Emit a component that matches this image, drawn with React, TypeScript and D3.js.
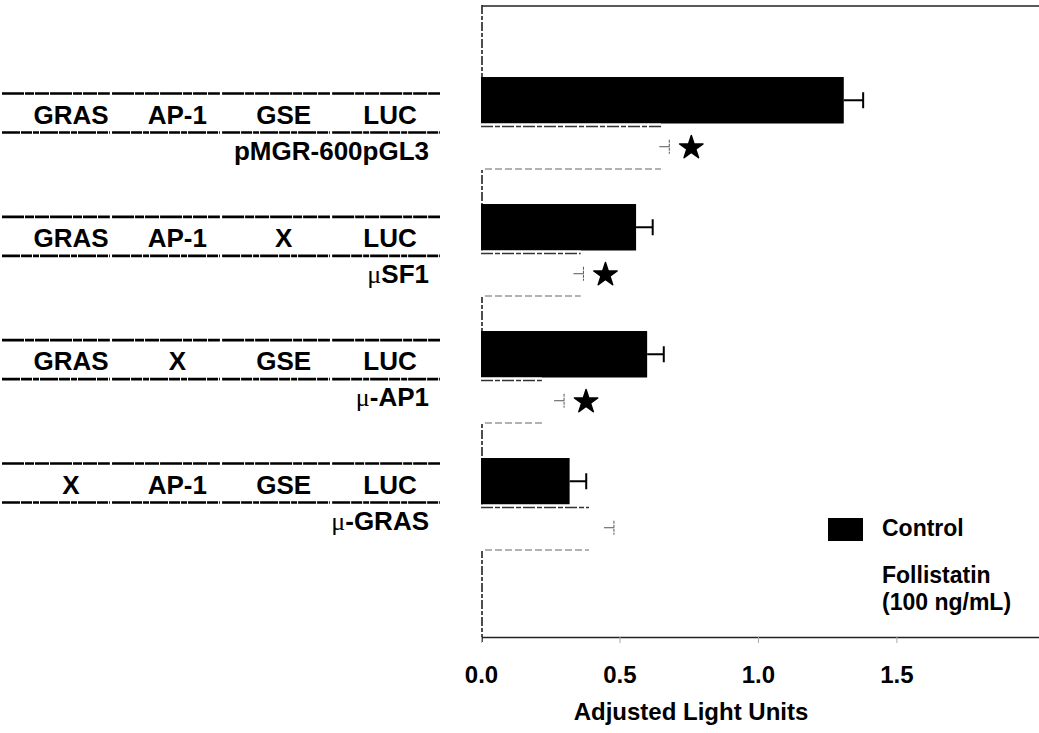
import React, { useRef, useEffect } from 'react';
import * as d3 from 'd3';

// constructs (rows, top to bottom) and their promoter elements
const constructs = ['pMGR-600pGL3', 'μSF1', 'μ-AP1', 'μ-GRAS'];
const elements = [
    ['GRAS', 'AP-1', 'GSE', 'LUC'],
    ['GRAS', 'AP-1', 'X', 'LUC'],
    ['GRAS', 'X', 'GSE', 'LUC'],
    ['X', 'AP-1', 'GSE', 'LUC'],
];

const series = ['Control', 'Follistatin'];
const controlValues = [1.31, 0.56, 0.60, 0.32];
const controlErrors = [0.07, 0.06, 0.06, 0.06];
const follistatinValues = [0.65, 0.36, 0.22, 0.39];
const follistatinErrors = [0.03, 0.01, 0.08, 0.09];
const significant = [true, true, true, false];

const xTicks = [0, 0.5, 1.0, 1.5];
const xTitle = 'Adjusted Light Units';
const legendLabels = [['Control'], ['Follistatin', '(100 ng/mL)']];

const W = 1039;
const H = 733;
const FONT = '"Liberation Sans", Arial, sans-serif';

export default function App() {
    const axisRef = useRef<SVGGElement>(null);

    const x = d3.scaleLinear().domain([0, 2.015]).range([481, 1039]);
    const y = d3.scaleBand().domain(constructs).range([60, 568]).paddingInner(0.268).paddingOuter(0.134);
    const inner = d3.scaleBand().domain(series).range([0, y.bandwidth()]);

    // left-hand construct drawings
    const rowY = d3.scalePoint().domain(constructs).range([93.5, 463.5]);
    const colX = d3.scalePoint<number>().domain([0, 1, 2, 3]).range([71, 390]);
    const segX = d3.scaleBand<number>().domain([0, 1, 2, 3]).range([2, 440]).paddingInner(0.02);

    useEffect(() => {
        const g = d3.select(axisRef.current);
        const axis = d3.axisBottom(x)
            .tickValues(xTicks)
            .tickFormat(d3.format('.1f'))
            .tickSize(6)
            .tickSizeOuter(0)
            .tickPadding(23);
        g.call(axis);
        g.select('.domain').attr('stroke', '#222').attr('stroke-width', 1.6);
        g.selectAll('.tick line').attr('stroke', '#aaa');
        g.selectAll('.tick text')
            .attr('font-size', 24)
            .attr('font-weight', 'bold')
            .attr('font-family', FONT)
            .attr('fill', '#000');
    }, []);

    const bars = constructs.map((c, i) => ({
        c, i,
        ctrl: controlValues[i], ctrlErr: controlErrors[i],
        fol: follistatinValues[i], folErr: follistatinErrors[i],
        sig: significant[i],
    }));

    const star = d3.symbol(d3.symbolStar, 170)();

    return (
        <svg width={W} height={H} style={{ position: 'absolute', left: 0, top: 0, background: '#fff' }}
            fontFamily={FONT}>
            {/* frame */}
            <line x1={482} x2={W} y1={6} y2={6} stroke="#222" strokeWidth={1.6} />
            <line x1={482} x2={482} y1={5} y2={642} stroke="#222" strokeWidth={1.6} strokeDasharray="9 2 4 2" />

            {bars.map(d => {
                const y0 = y(d.c)!;
                const yc = y0 + inner('Control')!;
                const yf = y0 + inner('Follistatin')!;
                const bh = inner.bandwidth();
                const fMid = yf + bh / 2;
                return (
                    <g key={d.c}>
                        {/* control */}
                        <rect x={x(0)} y={yc} width={x(d.ctrl) - x(0)} height={bh} fill="#000" />
                        <line x1={x(d.ctrl)} x2={x(d.ctrl + d.ctrlErr)} y1={yc + bh / 2} y2={yc + bh / 2}
                            stroke="#000" strokeWidth={2} />
                        <line x1={x(d.ctrl + d.ctrlErr)} x2={x(d.ctrl + d.ctrlErr)}
                            y1={yc + bh / 2 - 8} y2={yc + bh / 2 + 8} stroke="#000" strokeWidth={2} />
                        {/* follistatin: white bar, only its edges show */}
                        <rect x={x(0)} y={yf} width={x(d.fol) - x(0)} height={bh} fill="#fff" />
                        <line x1={x(0)} x2={x(d.fol)} y1={yf + 3} y2={yf + 3}
                            stroke="#333" strokeWidth={1.5} strokeDasharray="12 2 5 2" />
                        <line x1={x(0) + 4} x2={x(d.fol)} y1={yf + bh - 1} y2={yf + bh - 1}
                            stroke="#666" strokeWidth={1.2} strokeDasharray="7 3" />
                        <line x1={x(d.fol + d.folErr) - 10} x2={x(d.fol + d.folErr)} y1={fMid} y2={fMid}
                            stroke="#555" strokeWidth={1} />
                        <line x1={x(d.fol + d.folErr)} x2={x(d.fol + d.folErr)} y1={fMid - 7} y2={fMid + 7}
                            stroke="#555" strokeWidth={1} strokeDasharray="3 1" />
                        {d.sig && (
                            <path d={star!} transform={`translate(${x(d.fol + d.folErr) + 22},${fMid + 1})`}
                                fill="#000" stroke="#000" strokeWidth={1.5} strokeLinejoin="round" />
                        )}
                    </g>
                );
            })}

            {/* construct diagrams */}
            {constructs.map((c, i) => {
                const top = rowY(c)!;
                const bottom = top + 39;
                return (
                    <g key={'row' + c}>
                        {elements[i].map((el, j) => (
                            <g key={j}>
                                <line x1={segX(j)} x2={segX(j)! + segX.bandwidth()} y1={top} y2={top}
                                    stroke="#000" strokeWidth={2.6} strokeDasharray="22 1 9 1 14 1" />
                                <line x1={segX(j)} x2={segX(j)! + segX.bandwidth()} y1={bottom} y2={bottom}
                                    stroke="#000" strokeWidth={2.6} strokeDasharray="18 1 11 1 6 1" />
                                <text x={colX(j)} y={top + 30} textAnchor="middle" fontSize={26}
                                    fontWeight="bold">{el}</text>
                            </g>
                        ))}
                        <text x={429} y={top + 66} textAnchor="end" fontSize={26} fontWeight="bold">
                            {c.startsWith('μ') ? (
                                <>
                                    <tspan fontWeight="normal" fontFamily='"Liberation Serif", serif'>μ</tspan>
                                    <tspan>{c.slice(1)}</tspan>
                                </>
                            ) : c}
                        </text>
                    </g>
                );
            })}

            {/* x axis */}
            <g ref={axisRef} transform="translate(0,637)" />
            <text x={691} y={720} textAnchor="middle" fontSize={24} fontWeight="bold">{xTitle}</text>

            {/* legend */}
            {legendLabels.map((lines, i) => (
                <g key={'leg' + i} transform={`translate(828,${518 + i * 47})`}>
                    <rect width={35} height={23} fill={i === 0 ? '#000' : '#fff'} />
                    {lines.map((t, k) => (
                        <text key={k} x={54} y={18 + k * 27} fontSize={23} fontWeight="bold">{t}</text>
                    ))}
                </g>
            ))}
        </svg>
    );
}
